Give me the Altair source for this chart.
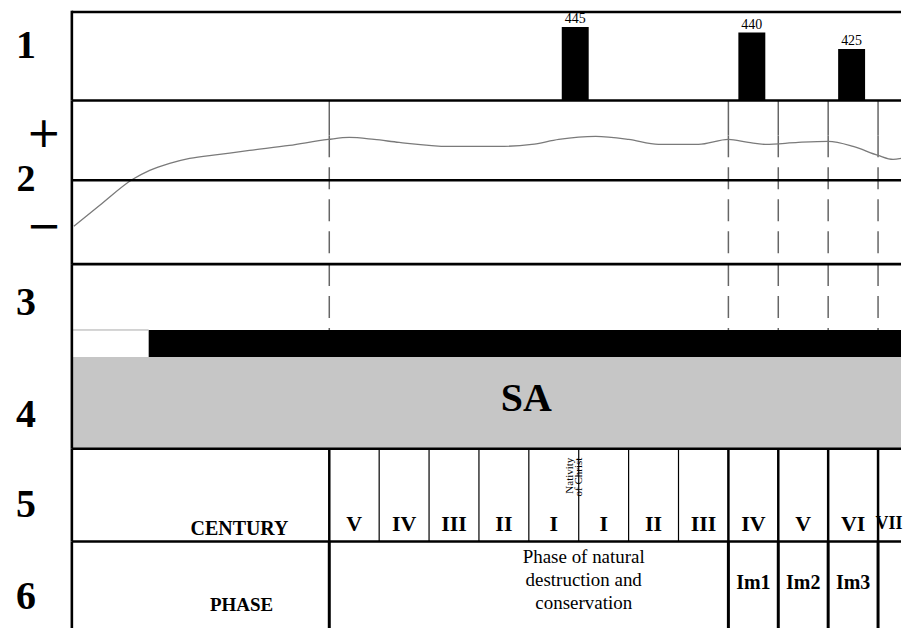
import altair as alt
import pandas as pd

# ---------------- data ----------------
# Row 1: bars (value, start year, end year)
bar_values = [445, 440, 425]
bar_start = [-34, 320, 520]
bar_end = [20, 374, 574]

# Row 2: curve (year, relative level; + above the middle line, - below)
curve_year = [-1012, -960, -894, -860, -820, -780, -720, -660, -580, -502, -460, -410,
              -360, -260, -160, -94, -40, 34, 100, 160, 240, 300, 340, 374, 440, 500,
              550, 600, 630, 646]
curve_value = [-46, -25, 1, 10, 17, 22, 26, 30, 35, 41, 43, 41,
               38, 34, 34, 36, 41, 44, 41, 36, 36, 41, 38, 36, 38, 39,
               34, 25, 21, 22]

# dashed marker lines (years)
marker_years = [-500, 300, 400, 500, 600]

# Row 3: start of the black band (year)
black_band_start = -862

# Row 5: centuries
century_edges = [-500, -400, -300, -200, -100, 0, 100, 200, 300, 400, 500, 600]
century_labels = ["V", "IV", "III", "II", "I", "I", "II", "III", "IV", "V", "VI"]
century_mid = [-450, -350, -250, -150, -50, 50, 150, 250, 350, 450, 550]
last_century_label = "VII"

# Row 6: phases
phase_labels = ["Im1", "Im2", "Im3"]
phase_mid = [350, 450, 550]
phase_edges = [-500, 300, 400, 500, 600]

# ---------------- layout ----------------
XL, X1 = -1144, 646      # whole drawing width (incl. row-number column)
FL = -1016               # left frame line
W = 895
H1, H2, H34, H5, H6 = 90, 164, 185, 93, 88
SERIF = "Liberation Serif"
LAB_X = -1108            # row-number column
SIGN_X = -1072           # + / - signs
BORDER = 2.6

xs = alt.Scale(domain=[XL, X1], nice=False, zero=False)
one = alt.InlineData(values=[{}])


def X(v):
    return alt.XDatum(v, scale=xs, axis=None)


def Yd(v, sc):
    return alt.YDatum(v, scale=sc, axis=None)


def hline(y, sc, width=BORDER, x0=FL, x1=X1, color="black"):
    return alt.Chart(one).mark_rule(color=color, strokeWidth=width).encode(
        x=X(x0), x2=alt.datum(x1), y=Yd(y, sc))


def vline(y0, y1, sc, x=FL, width=BORDER):
    return alt.Chart(one).mark_rule(color="black", strokeWidth=width).encode(
        x=X(x), y=Yd(y0, sc), y2=alt.datum(y1))


def label(txt, x, y, sc, size=40, weight="bold", font=SERIF):
    return alt.Chart(one).mark_text(text=txt, font=font, fontSize=size, fontWeight=weight,
                                    color="black", baseline="middle", align="center").encode(
        x=X(x), y=Yd(y, sc))


# ---- Row 1 ----
bars_df = pd.DataFrame({"value": bar_values, "start": bar_start, "end": bar_end})
y1 = alt.Scale(domain=[378, 460], nice=False, zero=False)
bars = alt.Chart(bars_df).mark_rect(color="black").encode(
    x=alt.X("start:Q", scale=xs, axis=None), x2="end:Q",
    y=alt.Y("value:Q", scale=y1, axis=None), y2=alt.datum(378))
bar_text = alt.Chart(bars_df).transform_calculate(
    mid="(datum.start + datum.end) / 2").mark_text(
    font=SERIF, fontSize=14, baseline="bottom", dy=-1, color="black").encode(
    x=alt.X("mid:Q", scale=xs, axis=None),
    y=alt.Y("value:Q", scale=y1, axis=None), text="value:Q")
row1 = alt.layer(
    bars, bar_text, hline(458.8, y1), vline(378, 460, y1), label("1", LAB_X, 428, y1)
).properties(width=W, height=H1)

# ---- Row 2 ----
y2s = alt.Scale(domain=[-84, 80], nice=False, zero=False)
curve_df = pd.DataFrame({"year": curve_year, "value": curve_value})
curve = alt.Chart(curve_df).mark_line(color="#7a7a7a", strokeWidth=1.3,
                                      interpolate="monotone", clip=True).encode(
    x=alt.X("year:Q", scale=xs, axis=None), y=alt.Y("value:Q", scale=y2s, axis=None))
mk_df = pd.DataFrame({"year": marker_years})
mk_solid = alt.Chart(mk_df).mark_rule(color="#666666", strokeWidth=1.5).encode(
    x=alt.X("year:Q", scale=xs, axis=None), y=Yd(80, y2s), y2=alt.datum(45))
mk_dash = alt.Chart(mk_df).mark_rule(color="#666666", strokeWidth=1.5, strokeDash=[22, 10]).encode(
    x=alt.X("year:Q", scale=xs, axis=None), y=Yd(45, y2s), y2=alt.datum(-84))
row2 = alt.layer(
    mk_solid, mk_dash, curve, hline(80, y2s), hline(0, y2s), vline(-84, 80, y2s),
    label("+", SIGN_X, 46, y2s, size=42, weight="normal", font="DejaVu Sans"),
    label("2", LAB_X, 0, y2s, size=38),
    label("\u2212", SIGN_X, -47, y2s, size=42, weight="normal", font="DejaVu Sans"),
).properties(width=W, height=H2)

# ---- Rows 3 & 4 ----
y34 = alt.Scale(domain=[0, 185], nice=False, zero=False, reverse=True)
grey = alt.Chart(one).mark_rect(color="#c6c6c6").encode(
    x=X(FL), x2=alt.datum(X1), y=Yd(93, y34), y2=alt.datum(185))
black = alt.Chart(one).mark_rect(color="black").encode(
    x=X(black_band_start), x2=alt.datum(X1), y=Yd(66, y34), y2=alt.datum(93))
mk_dash3 = alt.Chart(mk_df).mark_rule(color="#666666", strokeWidth=1.5, strokeDash=[22, 10]).encode(
    x=alt.X("year:Q", scale=xs, axis=None), y=Yd(0, y34), y2=alt.datum(66))
sa = label("SA", -105, 135, y34)
row34 = alt.layer(
    grey, black, hline(66, y34, width=1, x1=black_band_start, color="#aaaaaa"),
    mk_dash3, sa, hline(0, y34), vline(0, 185, y34),
    label("3", LAB_X, 39, y34), label("4", LAB_X, 151, y34),
).properties(width=W, height=H34)

# ---- Row 5 ----
y5 = alt.Scale(domain=[0, 93], nice=False, zero=False, reverse=True)
edges_df = pd.DataFrame({"edge": century_edges})
sep5 = alt.Chart(edges_df).transform_calculate(
    w="datum.edge <= -500 || datum.edge >= 300 ? 2.5 : 1.2").mark_rule(color="black").encode(
    x=alt.X("edge:Q", scale=xs, axis=None),
    strokeWidth=alt.StrokeWidth("w:Q", scale=None, legend=None),
    y=Yd(0, y5), y2=alt.datum(93))
cent_df = pd.DataFrame({"label": century_labels, "mid": century_mid})
cent_text = alt.Chart(cent_df).mark_text(font=SERIF, fontSize=22, fontWeight="bold",
                                         color="black", baseline="middle").encode(
    x=alt.X("mid:Q", scale=xs, axis=None), y=Yd(75, y5), text="label:N")
nativity = alt.Chart(one).mark_text(text=["Nativity", "of Christ"], font=SERIF, fontSize=11,
                                    lineHeight=9, angle=270, align="right",
                                    baseline="middle", color="black").encode(
    x=X(-18), y=Yd(9, y5))
row5 = alt.layer(
    sep5, cent_text, label(last_century_label, 622, 75, y5, size=18),
    label("CENTURY", -680, 80, y5, size=20), nativity,
    hline(0, y5), vline(0, 93, y5), label("5", LAB_X, 56, y5),
).properties(width=W, height=H5)

# ---- Row 6 ----
y6 = alt.Scale(domain=[0, 88], nice=False, zero=False, reverse=True)
pedges_df = pd.DataFrame({"edge": phase_edges})
sep6 = alt.Chart(pedges_df).mark_rule(color="black", strokeWidth=3).encode(
    x=alt.X("edge:Q", scale=xs, axis=None), y=Yd(0, y6), y2=alt.datum(88))
phase_text = alt.Chart(one).mark_text(
    text=["Phase of natural", "destruction and", "conservation"], font=SERIF, fontSize=19,
    lineHeight=23, baseline="middle", color="black").encode(x=X(10), y=Yd(16, y6))
ph_df = pd.DataFrame({"label": phase_labels, "mid": phase_mid})
im_text = alt.Chart(ph_df).mark_text(font=SERIF, fontSize=20, fontWeight="bold",
                                     color="black", baseline="middle").encode(
    x=alt.X("mid:Q", scale=xs, axis=None), y=Yd(42, y6), text="label:N")
row6 = alt.layer(
    sep6, phase_text, im_text, label("PHASE", -676, 64, y6, size=19),
    hline(0, y6), vline(0, 88, y6), label("6", LAB_X, 56, y6),
).properties(width=W, height=H6)

chart = alt.vconcat(row1, row2, row34, row5, row6, spacing=0, bounds="flush").resolve_scale(
    x="independent", y="independent").properties(
    padding=0, background="white").configure_view(
    stroke="transparent", strokeWidth=0).configure_concat(spacing=0)

chart.save("out.html", embed_options={"renderer": "svg", "actions": False})
